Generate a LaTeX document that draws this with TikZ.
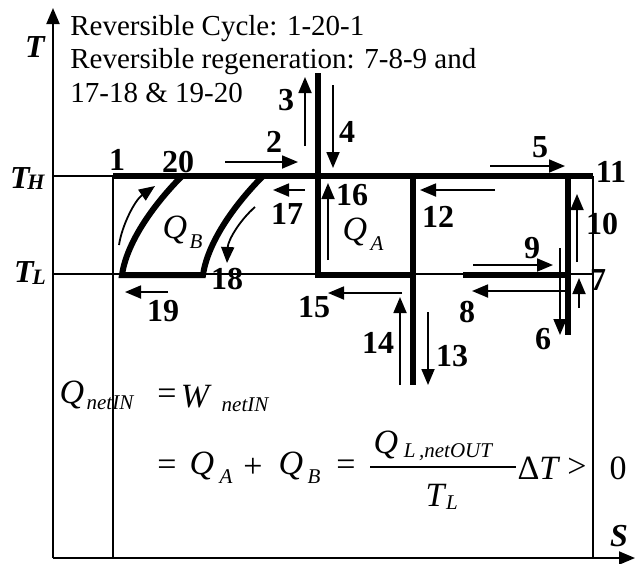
\documentclass[tikz,border=0pt]{standalone}
\usepackage{fontspec}
\setmainfont{Liberation Serif}
\usetikzlibrary{arrows.meta}

\begin{document}
\begin{tikzpicture}[x=0.5pt, y=-0.5pt,
    flow/.style={-{Triangle[length=8pt,width=6.5pt]}, line width=0.9pt},
    cycleline/.style={line width=3pt},
    guide/.style={line width=0.7pt},
    num/.style={font=\fontsize{16}{16}\selectfont\bfseries, inner sep=0pt},
    axlabel/.style={font=\fontsize{16}{16}\selectfont\bfseries\itshape, inner sep=0pt},
    axsub/.style={font=\fontsize{11}{11}\selectfont\bfseries\itshape, inner sep=0pt},
    note/.style={font=\fontsize{14.5}{14.5}\selectfont, inner sep=0pt, anchor=base west},
    eqbig/.style={font=\fontsize{17}{17}\selectfont\itshape, inner sep=0pt},
    eqsub/.style={font=\fontsize{10.5}{10.5}\selectfont\itshape, inner sep=0pt},
    eqop/.style={font=\fontsize{17}{17}\selectfont, inner sep=0pt}]
  \useasboundingbox (0,0) rectangle (635,563);

  % axes
  \coordinate (o) at (53,558);
  \coordinate (ttop) at (53,8);
  \coordinate (send) at (635,558);
  \draw[line width=1pt, -{Triangle[length=8pt,width=6.5pt]}] (o) -- (ttop);
  \draw[line width=1pt, -{Triangle[length=8pt,width=6.5pt]}] (o) -- (send);
  \node[axlabel] (T) at (35,47) {T};
  \node[axlabel] (TH) at (20,178) {T};
  \node[axsub] (THsub) at (36,182) {H};
  \node[axlabel] (TL) at (24,272) {T};
  \node[axsub] (TLsub) at (39,277) {L};
  \node[axlabel] (S) at (619,536) {S};

  % notes
  \node[note] (cycle) at (70,35) {Reversible Cycle: 1-20-1};
  \node[note] (regen) at (70,68) {Reversible regeneration: 7-8-9 and};
  \node[note] (regenb) at (70,102) {17-18 \& 19-20};

  % temperature levels
  \draw[guide] (53,176) -- (593,176);
  \draw[guide] (53,274) -- (593,274);
  \draw[guide] (113,176) -- (113,558);
  \draw[guide] (593,176) -- (593,558);

  % cycle
  \draw[cycleline] (113,176) -- (593,176);
  \draw[cycleline] (318,73) -- (318,275) -- (413,275);
  \draw[cycleline] (413,176) -- (413,385);
  \draw[cycleline] (463,275) -- (568,275);
  \draw[cycleline] (568,176) -- (568,335);
  \draw[cycleline] (182,176) .. controls (157,201) and (127,240) .. (122,275)
      -- (203,275) .. controls (208,240) and (238,201) .. (263,176);

  % process arrows
  \draw[flow] (225,162) -- (298,162);
  \draw[flow] (305,146) -- (305,77);
  \draw[flow] (333,85) -- (333,168);
  \draw[flow] (490,166) -- (565,166);
  \draw[flow] (495,190) -- (420,190);
  \draw[flow] (328,260) -- (328,183);
  \draw[flow] (305,190) -- (273,190);
  \draw[flow] (577,262) -- (577,194);
  \draw[flow] (473,265) -- (553,265);
  \draw[flow] (560,248) -- (560,335);
  \draw[flow] (579,308) -- (579,278);
  \draw[flow] (567,291) -- (472,291);
  \draw[flow] (402,293) -- (328,293);
  \draw[flow] (400,385) -- (400,297);
  \draw[flow] (428,312) -- (428,385);
  \draw[flow] (168,292) -- (125,292);
  \draw[flow] (119,245) .. controls (122,225) and (135,200) .. (155,186);
  \draw[flow] (255,207) .. controls (240,220) and (228,240) .. (227,263);

  % state numbers
  \node[num] (n1) at (117,160) {1};
  \node[num] (n20) at (178,162) {20};
  \node[num] (n2) at (274,142) {2};
  \node[num] (n3) at (286,100) {3};
  \node[num] (n4) at (347,132) {4};
  \node[num] (n5) at (540,147) {5};
  \node[num] (n11) at (611,172) {11};
  \node[num] (n16) at (352,195) {16};
  \node[num] (n17) at (287,214) {17};
  \node[num] (n12) at (438,217) {12};
  \node[num] (n10) at (602,224) {10};
  \node[num] (n9) at (532,248) {9};
  \node[num] (n7) at (598,280) {7};
  \node[num] (n18) at (227,279) {18};
  \node[num] (n19) at (163,311) {19};
  \node[num] (n15) at (314,307) {15};
  \node[num] (n8) at (467,312) {8};
  \node[num] (n6) at (543,339) {6};
  \node[num] (n14) at (378,343) {14};
  \node[num] (n13) at (452,356) {13};

  % heat areas
  \node[eqbig] (QB) at (175,230) {Q};
  \node[eqsub] (QBsub) at (196,242) {B};
  \node[eqbig] (QA) at (355,232) {Q};
  \node[eqsub] (QAsub) at (377,244) {A};

  % balance
  \node[eqbig] (qnet) at (72,395) {Q};
  \node[eqsub] (qnetsub) at (110,403) {netIN};
  \node[eqop] (eqa) at (167,397) {=};
  \node[eqbig] (w) at (195,397) {W};
  \node[eqsub] (wsub) at (245,405) {netIN};
  \node[eqop] (eqb) at (167,468) {=};
  \node[eqbig] (qa) at (202,466) {Q};
  \node[eqsub] (qasub) at (226,477) {A};
  \node[eqop] (plus) at (253,468) {+};
  \node[eqbig] (qb) at (291,466) {Q};
  \node[eqsub] (qbsub) at (314,477) {B};
  \node[eqop] (eqc) at (346,468) {=};
  \coordinate (barl) at (370,467);
  \coordinate (barr) at (516,467);
  \draw[line width=0.8pt] (barl) -- (barr);
  \node[eqbig] (ql) at (386,445) {Q};
  \node[eqsub] (qlsub) at (448,452) {L\,,netOUT};
  \node[eqbig] (tl) at (435,495) {T};
  \node[eqsub] (tlsub) at (452,503) {L};
  \node[eqbig] (dt) at (538,468) {{\upshape Δ}T};
  \node[eqop] (gt) at (577,468) {>};
  \node[eqop] (zero) at (618,468) {0};
\end{tikzpicture}
\end{document}
